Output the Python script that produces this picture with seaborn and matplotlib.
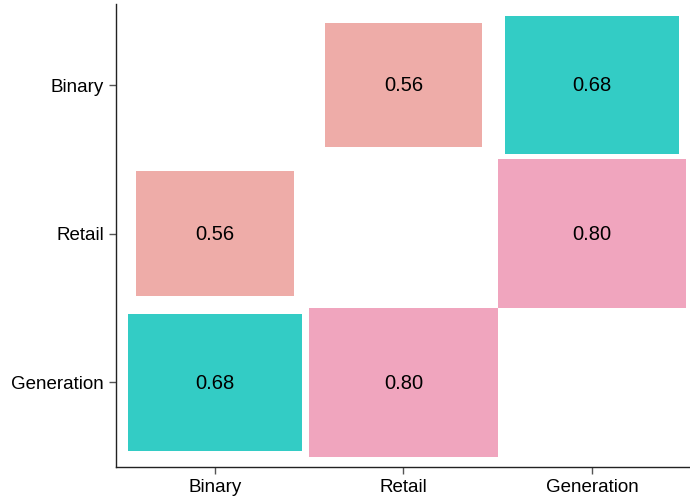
import numpy as np
import pandas as pd
import matplotlib
matplotlib.use("Agg")
import matplotlib.pyplot as plt
import seaborn as sns

labels = ["Binary", "Retail", "Generation"]
row_names = ["Binary", "Binary", "Retail", "Retail", "Generation", "Generation"]
col_names = ["Retail", "Generation", "Binary", "Generation", "Binary", "Retail"]
values = [0.56, 0.68, 0.56, 0.80, 0.68, 0.80]

colors = {0.56: "#EEACA8", 0.68: "#33CCC5", 0.80: "#F0A5BE"}

df = pd.DataFrame({"row": row_names, "col": col_names, "value": values})
pos = {name: i for i, name in enumerate(labels)}
df["x"] = df["col"].map(pos)
df["y"] = df["row"].map(pos)
vmax = df["value"].max()
df["side"] = np.sqrt(df["value"] / vmax)

sns.set_style("ticks")
plt.rcParams["font.family"] = ["Liberation Sans", "DejaVu Sans"]

fig = plt.figure(figsize=(6.9, 5), dpi=100)
ax = fig.add_axes([0.168, 0.066, 0.832, 0.926])

for _, r in df.iterrows():
    ax.bar(r["x"], r["side"], width=r["side"], bottom=r["y"] - r["side"] / 2,
           color=colors[r["value"]], linewidth=0)
    ax.text(r["x"], r["y"] + 0.005, f"{r['value']:.2f}", ha="center", va="center",
            fontsize=14.5, color="black")

ax.set_xticks(range(len(labels)))
ax.set_xticklabels(labels)
ax.set_yticks(range(len(labels)))
ax.set_yticklabels(labels)
ax.set_xlim(-0.525, 2.52)
ax.set_ylim(2.57, -0.545)
ax.tick_params(labelsize=13.5, length=5, color="#555555", width=1,
               labelcolor="black")
for s in ["left", "bottom"]:
    ax.spines[s].set_color("#222222")
    ax.spines[s].set_linewidth(1)
sns.despine(ax=ax)

fig.savefig("out.png", dpi=100)
